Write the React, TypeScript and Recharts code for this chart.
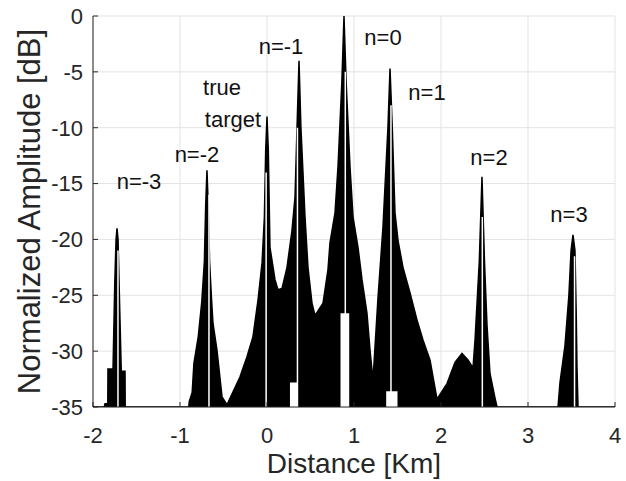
import { Area, ComposedChart, CartesianGrid, Line, ReferenceDot, XAxis, YAxis } from 'recharts'

// envelope of the range profile (km, dB)
const distanceKm = [
  -2.0, -1.87, -1.862, -1.83, -1.828, -1.77, -1.75, -1.735, -1.724, -1.712, -1.7, -1.675, -1.667, -1.632, -1.63,
  -0.9, -0.893, -0.86, -0.84, -0.79, -0.75, -0.72, -0.705, -0.69, -0.675, -0.66, -0.64, -0.621, -0.575, -0.517, -0.46,
  -0.31, -0.23, -0.161, -0.103, -0.057, -0.03, -0.015, 0.0, 0.015, 0.034, 0.092, 0.126, 0.172, 0.23, 0.287, 0.322,
  0.345, 0.368, 0.39, 0.437, 0.471, 0.517, 0.552, 0.644, 0.701, 0.724, 0.782, 0.816, 0.86, 0.885, 0.91, 0.954, 0.989,
  1.046, 1.092, 1.149, 1.184, 1.218, 1.276, 1.333, 1.39, 1.414, 1.44, 1.471, 1.506, 1.563, 1.644, 1.724, 1.793, 1.874,
  1.954, 2.069, 2.161, 2.241, 2.31, 2.368, 2.391, 2.44, 2.471, 2.5, 2.529, 2.563, 2.621, 2.644,
  3.345, 3.368, 3.425, 3.47, 3.495, 3.517, 3.54, 3.555, 3.563, 3.575, 4.0,
]
const amplitudeDb = [
  -35, -35, -34.7, -34.7, -31.6, -31.6, -24, -20, -19, -20, -24, -31.8, -31.8, -31.8, -35,
  -35, -34.5, -33.7, -31.1, -28.7, -25.6, -22, -17, -13.8, -17, -22, -25, -27.5, -29.9, -34.1, -34.8,
  -32.3, -30.5, -28.7, -25.4, -22.1, -18, -12, -9.0, -12, -20.7, -23.6, -24.5, -24.4, -22.5, -19.2, -16.2,
  -10, -4.0, -10, -18.0, -22.5, -25.7, -26.8, -25.7, -22.7, -20.3, -17.6, -13.5, -6, 0, -6, -13.5, -18.0,
  -20.7, -23.6, -26.6, -29.9, -32.6, -25.2, -18.9, -10, -4.7, -10, -17.6, -20.1, -22.5, -24.8, -27.2, -29.0, -30.8,
  -34.3, -32.9, -31.0, -30.2, -30.8, -31.5, -29.0, -22, -14.4, -22, -27.7, -32.0, -34.2, -35,
  -35, -32.8, -29.5, -25, -21, -19.6, -21, -27, -31.4, -35, -35,
]

// thin white gaps running up the middle of each peak
const gapKm = [-1.713, -0.667, -0.01, 0.35, 0.9, 1.425, 2.475, 3.535]
const gapTopDb = [-21, -16, -14, -10, -5, -8, -18, -21.5]

// white notches at the bottom of the filled region
const holeStartKm = [0.264, 0.845, 1.37]
const holeEndKm = [0.345, 0.945, 1.5]
const holeTopDb = [-32.8, -26.6, -33.6]

const peakLabels = ['n=-3', 'n=-2', 'true', 'target', 'n=-1', 'n=0', 'n=1', 'n=2', 'n=3']
const labelKm = [-1.471, -0.805, -0.517, -0.391, 0.161, 1.333, 1.839, 2.552, 3.471]
const labelDb = [-14.8, -12.4, -6.4, -9.2, -2.7, -1.9, -6.8, -12.6, -17.7]

const xTicks = [-2, -1, 0, 1, 2, 3, 4]
const yTicks = [-35, -30, -25, -20, -15, -10, -5, 0]

const envelope = distanceKm.map((x, i) => ({ x, db: amplitudeDb[i] }))
const gaps = gapKm.flatMap((x, i) => [
  { x, gap: -35 },
  { x, gap: gapTopDb[i] },
  { x, gap: null },
])
const holes = holeStartKm.flatMap((x0, i) => [
  { x: x0, hole: holeTopDb[i] },
  { x: holeEndKm[i], hole: holeTopDb[i] },
  { x: holeEndKm[i], hole: null },
])

const ink = '#262626'
const tickStyle = { fill: ink, fontSize: 22 }
const hidden = { fill: 'none', fontSize: 1 }

export default function App() {
  return (
    <div style={{ position: 'absolute', left: 0, top: 0, width: 626, height: 481, background: '#fff', fontFamily: '"Liberation Sans", Arial, sans-serif' }}>
      <ComposedChart width={626} height={481} data={envelope} margin={{ top: 16, right: 11, bottom: 0, left: 0 }}>
        <CartesianGrid stroke="#e3e3e3" />
        <XAxis
          dataKey="x"
          type="number"
          domain={[-2, 4]}
          ticks={xTicks}
          allowDataOverflow
          height={74}
          tickSize={-5}
          tickMargin={25}
          tickLine={{ stroke: ink }}
          axisLine={{ stroke: ink }}
          tick={tickStyle}
          label={{ value: 'Distance [Km]', position: 'insideBottom', offset: 8, fill: ink, fontSize: 28 }}
        />
        <XAxis xAxisId="top" orientation="top" type="number" domain={[-2, 4]} ticks={xTicks} height={0} tickSize={-5} tick={hidden} tickLine={{ stroke: ink }} axisLine={{ stroke: ink }} />
        <YAxis
          type="number"
          domain={[-35, 0]}
          ticks={yTicks}
          allowDataOverflow
          width={93}
          tickSize={-5}
          tickMargin={15}
          tickLine={{ stroke: ink }}
          axisLine={{ stroke: ink }}
          tick={tickStyle}
          label={{ value: 'Normalized Amplitude [dB]', angle: -90, position: 'insideLeft', offset: 29, fill: ink, fontSize: 31, style: { textAnchor: 'middle' } }}
        />
        <YAxis yAxisId="right" orientation="right" type="number" domain={[-35, 0]} ticks={yTicks} width={0} tickSize={-5} tick={hidden} tickLine={{ stroke: ink }} axisLine={{ stroke: ink }} />
        <Area type="linear" dataKey="db" baseValue={-35} stroke="#000" strokeWidth={1.5} fill="#000" fillOpacity={1} isAnimationActive={false} />
        <Area data={holes} type="linear" dataKey="hole" baseValue={-35} stroke="none" fill="#fff" fillOpacity={1} connectNulls={false} isAnimationActive={false} />
        <Line data={gaps} type="linear" dataKey="gap" stroke="#fff" strokeWidth={1.5} dot={false} connectNulls={false} isAnimationActive={false} />
        {peakLabels.map((t, i) => (
          <ReferenceDot key={t} x={labelKm[i]} y={labelDb[i]} r={0} fill="none" stroke="none" label={{ value: t, position: 'center', fill: '#111', fontSize: 22 }} />
        ))}
      </ComposedChart>
    </div>
  )
}
